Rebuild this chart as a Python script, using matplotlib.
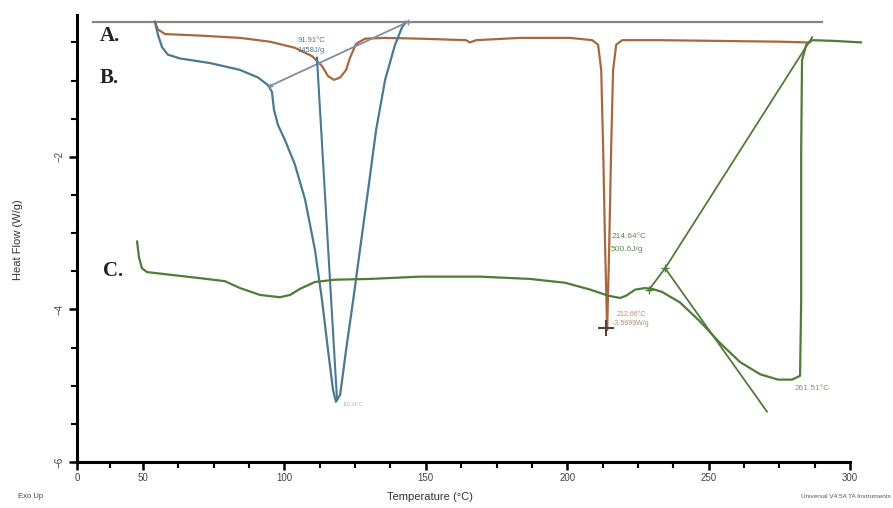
import numpy as np
import matplotlib
matplotlib.use('Agg')
import matplotlib.pyplot as plt

plt.rcParams['font.family'] = ['Liberation Sans', 'DejaVu Sans']

# sample A: temperature (C) / heat flow (W/g)
a_temp = [54.2, 55.3, 57.8, 70.2, 84.3, 94.9, 103.7, 109.8, 113.3, 115.4, 117.5, 119.7,
          121.8, 123.2, 125.3, 128.5, 135.6, 147.9, 164.2, 165.6, 167.8, 183.3, 201.0,
          208.8, 210.9, 212.0, 212.7, 213.4, 214.1, 214.8, 215.5, 216.2, 217.3, 219.4,
          232.8, 254.0, 275.2, 285.1]
a_flow = [-0.23, -0.33, -0.39, -0.41, -0.44, -0.49, -0.57, -0.68, -0.81, -0.94, -0.99, -0.96,
          -0.86, -0.70, -0.52, -0.45, -0.44, -0.45, -0.47, -0.50, -0.47, -0.44, -0.44,
          -0.47, -0.53, -0.86, -1.91, -3.22, -4.27, -3.22, -1.91, -0.86, -0.53, -0.47,
          -0.47, -0.48, -0.49, -0.50]

# sample B
b_temp = [54.2, 55.3, 56.7, 58.8, 63.1, 73.7, 84.3, 90.7, 94.2, 95.6, 96.3, 97.7, 100.2,
          103.7, 107.3, 110.8, 113.3, 115.4, 117.2, 118.2, 119.7, 121.8, 124.3, 126.7,
          129.6, 132.4, 135.6, 139.1, 141.6, 143.0]
b_flow = [-0.23, -0.40, -0.56, -0.66, -0.71, -0.77, -0.86, -0.96, -1.06, -1.15, -1.38, -1.58,
          -1.78, -2.10, -2.56, -3.22, -3.88, -4.53, -5.06, -5.21, -5.12, -4.53, -3.88, -3.22,
          -2.43, -1.65, -0.99, -0.53, -0.30, -0.23]

# sample C
c_temp = [45.5, 47.0, 49.2, 51.4, 56.0, 70.2, 79.0, 84.3, 91.4, 98.4, 102.0, 105.5, 110.8,
          117.9, 130.3, 147.9, 169.2, 186.8, 199.2, 208.1, 214.5, 218.7, 220.8, 224.0, 227.5,
          230.0, 233.5, 239.9, 247.0, 254.0, 261.1, 268.2, 274.5, 279.5, 282.3, 282.7, 282.7,
          283.0, 284.5, 286.6, 294.7, 304.2]
c_flow = [-3.11, -3.32, -3.46, -3.51, -3.53, -3.59, -3.63, -3.72, -3.81, -3.84, -3.81, -3.73,
          -3.64, -3.61, -3.60, -3.57, -3.57, -3.60, -3.65, -3.74, -3.82, -3.85, -3.82, -3.74,
          -3.72, -3.73, -3.77, -3.91, -4.16, -4.44, -4.69, -4.85, -4.92, -4.92, -4.87, -3.88,
          -1.91, -0.73, -0.53, -0.47, -0.48, -0.50]

# reference line across the top
top_temp = [12.1, 290.1]
top_flow = [-0.23, -0.23]

# analysis lines
b_base_temp, b_base_flow = [94.9, 143.7], [-1.07, -0.23]
b_peak_temp, b_peak_flow = [111.5, 118.6], [-0.70, -5.19]
c_long_temp, c_long_flow = [234.6, 286.6], [-3.46, -0.43]
c_step_temp, c_step_flow = [228.9, 234.6], [-3.74, -3.46]
c_tan_temp, c_tan_flow = [234.6, 270.6], [-3.46, -5.34]

col_a = '#a8683f'
col_b = '#4b7893'
col_c = '#4f7c38'


# axis is squeezed below 50 C
def fwd(t):
    t = np.asarray(t, dtype=float)
    return np.where(t < 50, 50 - (50 - t) * 0.4667, t)


def inv(u):
    u = np.asarray(u, dtype=float)
    return np.where(u < 50, 50 - (50 - u) / 0.4667, u)


fig = plt.figure(figsize=(8.93, 5.08), dpi=100)
ax = fig.add_axes([77 / 893, 1 - 462 / 508, (862 - 77) / 893, (462 - 15) / 508])
ax.set_xscale('function', functions=(fwd, inv))
ax.set_xlim(0, 304.2)
ax.set_ylim(-6, -0.14)

ax.plot(top_temp, top_flow, color='#8c8480', lw=1.6)
ax.plot(a_temp, a_flow, color=col_a, lw=1.6)
ax.plot(b_temp, b_flow, color=col_b, lw=1.6)
ax.plot(b_base_temp, b_base_flow, color='#7e8fa0', lw=1.3)
ax.plot(b_peak_temp, b_peak_flow, color=col_b, lw=1.5)
ax.plot(c_temp, c_flow, color=col_c, lw=1.6)
ax.plot(c_long_temp, c_long_flow, color=col_c, lw=1.3)
ax.plot(c_step_temp, c_step_flow, color=col_c, lw=1.3)
ax.plot(c_tan_temp, c_tan_flow, color=col_c, lw=1.3)

ax.plot([94.9, 143.7], [-1.07, -0.23], ls='none', marker='+', ms=5, color='#7e8fa0')
ax.plot([228.9, 234.6], [-3.74, -3.46], ls='none', marker='+', ms=6, color=col_c)
ax.plot([213.7], [-4.24], ls='none', marker='+', ms=11, mew=1.5, color='#5a4030')

ax.text(109.4, -0.47, '91.91°C', color=col_b, fontsize=5.5, ha='center', va='center')
ax.text(109.4, -0.60, '1458J/g', color=col_b, fontsize=5.5, ha='center', va='center')
ax.text(120.7, -5.24, '118.24°C', color='#9db3c4', fontsize=3.5, va='center')
ax.text(215.5, -3.05, '214.64°C', color='#5e8a55', fontsize=6, va='center')
ax.text(215.5, -3.21, '500.6J/g', color='#5e8a55', fontsize=6, va='center')
ax.text(217.6, -4.06, '212.66°C', color='#c08a68', fontsize=5, va='center')
ax.text(216.0, -4.19, '-3.5699W/g', color='#c08a68', fontsize=5, va='center')
ax.text(280.5, -5.04, '261.51°C', color='#7f9a74', fontsize=6, va='center')

for lab, xx, yy in [('A.', 17.4, -0.41), ('B.', 17.4, -0.97), ('C.', 19.7, -3.49)]:
    ax.text(xx, yy, lab, family=['Liberation Serif', 'DejaVu Serif'],
            fontweight='bold', fontsize=15, color='#222222', va='center')

for s in ['top', 'right']:
    ax.spines[s].set_visible(False)
ax.spines['left'].set_linewidth(2.2)
ax.spines['bottom'].set_linewidth(2.2)
ax.spines['bottom'].set_bounds(0, 300)

ax.set_xticks([0, 50, 100, 150, 200, 250, 300])
ax.set_xticks([25] + list(np.arange(62.5, 300, 12.5)), minor=True)
ax.set_yticks([-6, -4, -2])
ax.set_yticks([-5.5, -5, -4.5, -3.5, -3, -2.5, -1.5, -1, -0.5], minor=True)
ax.tick_params(axis='both', which='major', length=6, width=1.8, labelsize=7,
               labelcolor='#444444', pad=2)
ax.tick_params(axis='both', which='minor', length=4, width=1.5)
ax.tick_params(axis='y', which='major', labelrotation=90, pad=3)
for t in ax.get_yticklabels():
    t.set_va('center')

fig.text(18 / 893, 1 - 240 / 508, 'Heat Flow (W/g)', rotation=90, fontsize=8,
         color='#333333', ha='center', va='center')
fig.text(430 / 893, 1 - 497 / 508, 'Temperature (°C)', fontsize=8, color='#333333',
         ha='center', va='center')
fig.text(18 / 893, 1 - 497 / 508, 'Exo Up', fontsize=5.5, color='#444444', va='center')
fig.text(891 / 893, 1 - 496 / 508, 'Universal V4.5A TA Instruments', fontsize=4.6,
         color='#555555', ha='right', va='center')

fig.savefig('out.png', dpi=100)
